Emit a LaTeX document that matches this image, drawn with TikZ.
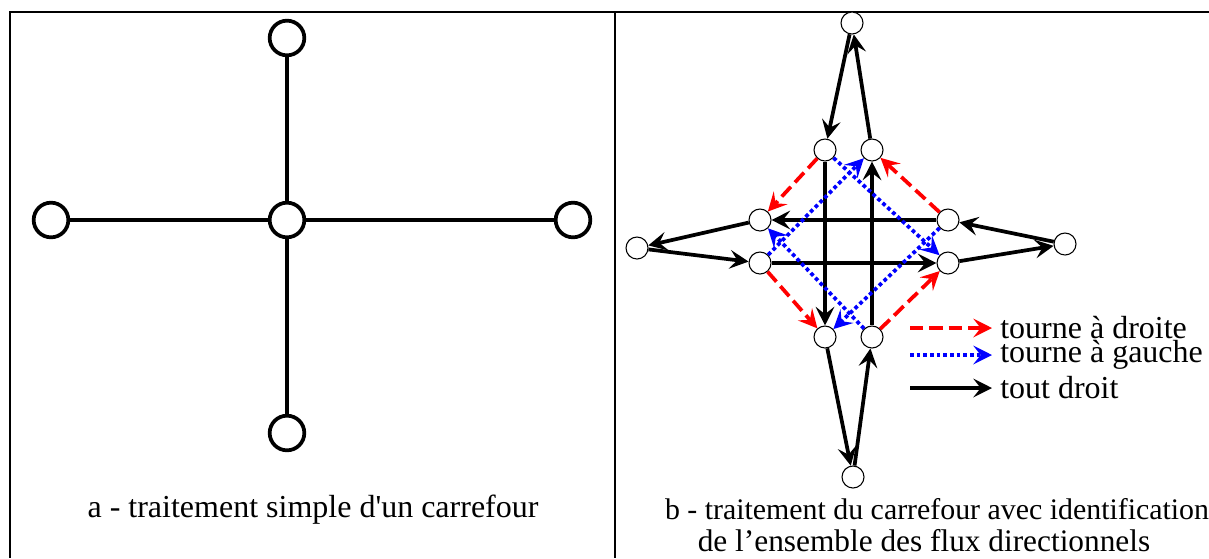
\documentclass[tikz,border=0pt]{standalone}
\usepackage{fontspec}
\setmainfont{Liberation Serif}[Ligatures=TeXOff]
\usetikzlibrary{arrows.meta}

\begin{document}
\begin{tikzpicture}[x=.75pt, y=-.75pt, every node/.style={font=\fontsize{24}{27}\selectfont},
  gros/.style={circle, draw, line width=2.8pt, minimum size=26pt, inner sep=0pt, fill=white},
  petit/.style={circle, draw, line width=.8pt, minimum size=16.5pt, inner sep=0pt, fill=white},
  route/.style={line width=2.8pt},
  tete/.style={-{Stealth[length=14pt,width=14pt,inset=5.5pt]}},
  droit/.style={route, tete},
  adroite/.style={route, tete, red, dash pattern=on 10pt off 4.5pt},
  agauche/.style={route, tete, blue, dash pattern=on 2.8pt off 2.2pt},
  legende/.style={anchor=west, inner sep=6pt}]
\useasboundingbox (0,0) rectangle (1209,558);
% frame
\draw[line width=2pt] (9,12) -- (1209,12);
\draw[line width=2pt] (10,12) -- (10,558);
\draw[line width=2pt] (615,12) -- (615,558);
% a : simple crossroad
\node[gros] (c) at (287,220) {};
\node[gros] (n) at (287,38) {};
\node[gros] (s) at (287,433) {};
\node[gros] (o) at (51,220) {};
\node[gros] (e) at (573,220) {};
\draw[route] (c) -- (n);
\draw[route] (c) -- (s);
\draw[route] (c) -- (o);
\draw[route] (c) -- (e);
\node (capa) at (313,510) {a - traitement simple d'un carrefour};
% b : all directional flows
\node[petit] (fh) at (852,23) {};
\node[petit] (fb) at (853,477) {};
\node[petit] (fg) at (637,248) {};
\node[petit] (fd) at (1065,244) {};
\node[petit] (hg) at (825,150) {};
\node[petit] (hd) at (872,150) {};
\node[petit] (gh) at (760,220) {};
\node[petit] (gb) at (760,263) {};
\node[petit] (dh) at (948,220) {};
\node[petit] (db) at (948,263) {};
\node[petit] (bg) at (825,337) {};
\node[petit] (bd) at (872,337) {};
% straight on
\draw[droit] (fh) -- (hg);
\draw[droit] (hd) -- (fh);
\draw[droit] (bg) -- (fb);
\draw[droit] (fb) -- (bd);
\draw[droit] (gh) -- (fg);
\draw[droit] (fg) -- (gb);
\draw[droit] (fd) -- (dh);
\draw[droit] (db) -- (fd);
\draw[droit] (hg) -- (bg);
\draw[droit] (bd) -- (hd);
\draw[droit] (dh) -- (gh);
\draw[droit] (gb) -- (db);
% left turns
\draw[agauche] (hg) -- (db);
\draw[agauche] (dh) -- (bg);
\draw[agauche] (bd) -- (gh);
\draw[agauche] (gb) -- (hd);
% right turns
\draw[adroite] (hg) -- (gh);
\draw[adroite] (gb) -- (bg);
\draw[adroite] (bd) -- (db);
\draw[adroite] (dh) -- (hd);
% legend
\node[legende] (ld) at (992,328) {tourne à droite};
\node[legende] (lg) at (992,355) {tourne à gauche};
\node[legende] (lt) at (992,388) {tout droit};
\coordinate (ld0) at (910,328);
\coordinate (lg0) at (910,355);
\coordinate (lt0) at (910,388);
\draw[adroite] (ld0) -- (ld);
\draw[agauche] (lg0) -- (lg);
\draw[droit] (lt0) -- (lt);
% caption
\node[font=\fontsize{22.4}{26}\selectfont] (capb) at (937,509) {b - traitement du carrefour avec identification};
\node[font=\fontsize{23.5}{26}\selectfont] (capb2) at (924,541) {de l’ensemble des flux directionnels};
\end{tikzpicture}
\end{document}
